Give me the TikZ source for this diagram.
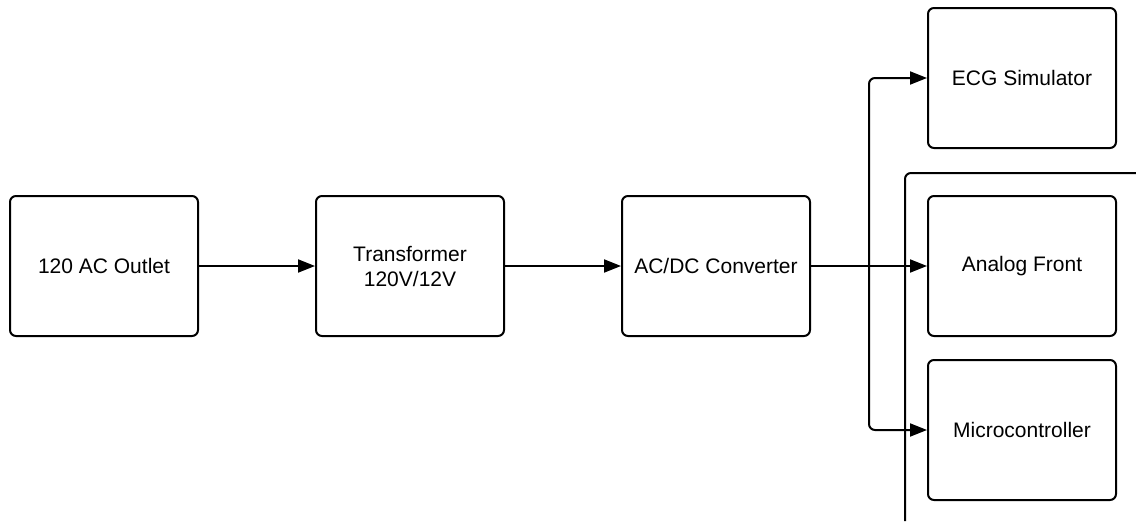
\documentclass[tikz,border=0pt]{standalone}
\usepackage{fontspec}
\setmainfont{Liberation Sans}
\usetikzlibrary{arrows.meta}
\begin{document}
\begin{tikzpicture}[x=1pt,y=-1pt,
    block/.style={draw,line width=2pt,rounded corners=6pt,minimum width=188pt,minimum height=140pt,align=center,font=\fontsize{21}{25}\selectfont},
    link/.style={line width=2pt,-{Triangle[length=17pt,width=13pt]}}]
    \useasboundingbox (0,0) rectangle (1136,523);
    % Bloques
    \node[block] (outlet) at (104,266) {120 AC Outlet};
    \node[block] (trafo) at (410,266) {Transformer\\120V/12V};
    \node[block] (acdc) at (716,266) {AC/DC Converter};
    \node[block] (ecg) at (1022,78) {ECG Simulator};
    \node[block] (front) at (1022,266) {Analog Front};
    \node[block] (micro) at (1022,430) {Microcontroller};
    
    % Marco de la placa
    \draw[line width=2pt,rounded corners=6pt] (905,521) -- (905,173) -- (1140,173);
    
    % Conexiones
    \coordinate (split) at (869,266);
    \draw[link] (outlet) -- (trafo);
    \draw[link] (trafo) -- (acdc);
    \draw[link] (acdc) -- (front);
    \draw[link,rounded corners=6pt] (split) |- (ecg.west);
    \draw[link,rounded corners=6pt] (split) |- (micro.west);
    \end{tikzpicture}
\end{document}
